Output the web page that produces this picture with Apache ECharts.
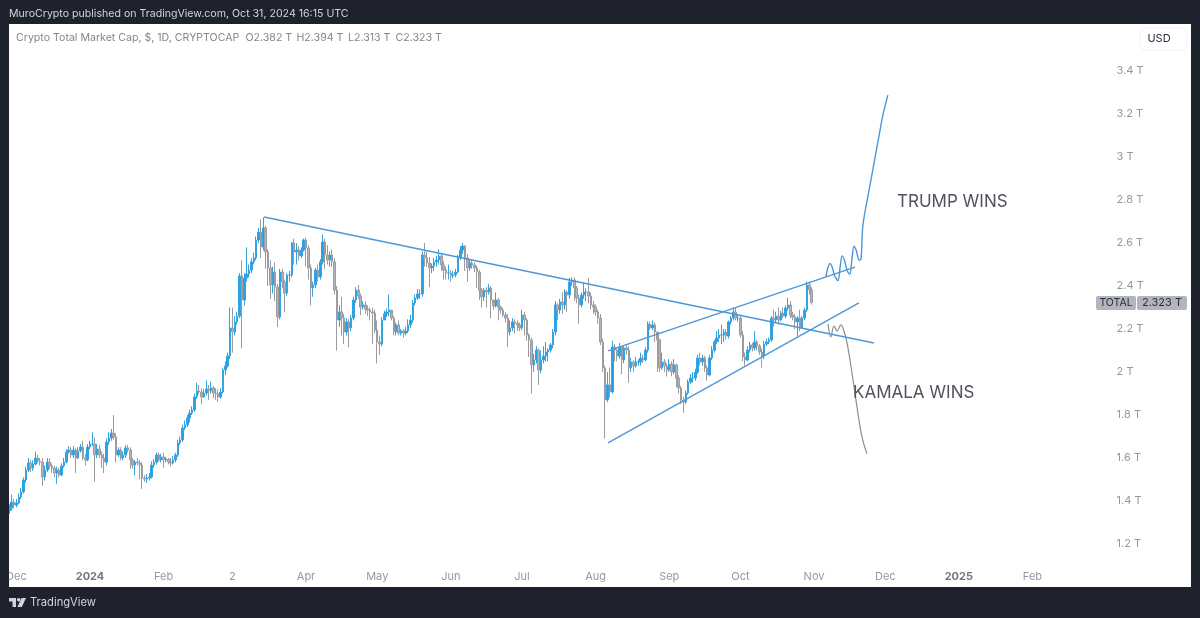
<!DOCTYPE html>
<html>
<head>
    <meta charset="utf-8">
    <title>Crypto Total Market Cap</title>
    <script src="https://cdn.jsdelivr.net/npm/echarts@6/dist/echarts.min.js"></script>
    <style>
        html, body { margin: 0; padding: 0; background: #fff; }
        #chart1 { width: 1200px; height: 618px; }
    </style>
</head>
<body>
<div id="chart1"></div>
<script type="text/javascript">
// daily candles 2023-11-28 .. 2024-10-31, in trillions
var opens = [
    1.355,1.368,1.395,1.381,1.391,1.419,1.442,1.498,1.544,1.577,
    1.553,1.572,1.600,1.586,1.581,1.512,1.544,1.581,1.563,1.553,
    1.530,1.544,1.521,1.563,1.581,1.628,1.637,1.614,1.637,1.600,
    1.633,1.651,1.600,1.591,1.651,1.665,1.665,1.614,1.642,1.614,
    1.600,1.581,1.674,1.693,1.716,1.698,1.614,1.637,1.600,1.614,
    1.647,1.637,1.591,1.567,1.581,1.577,1.567,1.507,1.502,1.507,
    1.512,1.567,1.581,1.614,1.591,1.605,1.591,1.595,1.581,1.577,
    1.591,1.614,1.670,1.684,1.740,1.754,1.786,1.809,1.823,1.884,
    1.912,1.907,1.884,1.902,1.921,1.912,1.926,1.902,1.898,1.884,
    1.907,2.009,2.028,2.074,2.205,2.186,2.233,2.260,2.447,2.335,
    2.437,2.456,2.474,2.512,2.530,2.614,2.651,2.581,2.670,2.558,
    2.484,2.405,2.465,2.395,2.256,2.465,2.419,2.367,2.451,2.451,
    2.600,2.558,2.567,2.540,2.567,2.614,2.577,2.484,2.391,2.405,
    2.474,2.442,2.512,2.605,2.544,2.521,2.544,2.512,2.381,2.242,
    2.279,2.251,2.186,2.233,2.205,2.251,2.335,2.381,2.353,2.302,
    2.312,2.293,2.288,2.279,2.274,2.195,2.140,2.130,2.242,2.270,
    2.279,2.288,2.251,2.186,2.219,2.181,2.191,2.181,2.191,2.219,
    2.242,2.321,2.344,2.363,2.363,2.544,2.530,2.507,2.484,2.493,
    2.512,2.521,2.540,2.498,2.474,2.460,2.460,2.447,2.451,2.465,
    2.530,2.567,2.586,2.530,2.484,2.507,2.498,2.484,2.465,2.381,
    2.349,2.381,2.372,2.391,2.335,2.307,2.335,2.302,2.288,2.265,
    2.251,2.186,2.205,2.233,2.228,2.219,2.205,2.265,2.242,2.172,
    2.149,2.033,2.056,2.102,2.009,2.056,2.074,2.093,2.102,2.126,
    2.186,2.312,2.288,2.326,2.312,2.372,2.358,2.419,2.428,2.391,
    2.344,2.312,2.358,2.372,2.372,2.353,2.312,2.302,2.279,2.251,
    2.140,2.019,1.870,1.940,1.907,2.116,2.102,2.074,2.116,2.056,
    2.112,2.102,2.019,2.047,2.028,2.047,2.047,2.065,2.056,2.102,
    2.223,2.205,2.219,2.186,2.149,2.019,2.047,2.028,2.009,2.037,
    2.000,2.033,1.972,1.926,1.870,1.860,1.902,1.953,1.972,1.972,
    2.000,2.065,2.047,2.065,2.019,1.986,2.065,2.102,2.140,2.158,
    2.172,2.172,2.186,2.167,2.233,2.251,2.279,2.251,2.251,2.172,
    2.070,2.056,2.102,2.126,2.112,2.140,2.121,2.093,2.074,2.130,
    2.140,2.149,2.251,2.242,2.260,2.242,2.274,2.260,2.298,2.312,
    2.265,2.256,2.233,2.251,2.205,2.251,2.288,2.405,2.382
];
var closes = [
    1.368,1.395,1.381,1.391,1.419,1.442,1.498,1.544,1.577,1.553,
    1.572,1.600,1.586,1.581,1.512,1.544,1.581,1.563,1.553,1.530,
    1.544,1.521,1.563,1.581,1.628,1.637,1.614,1.637,1.600,1.633,
    1.651,1.600,1.591,1.651,1.665,1.665,1.614,1.642,1.614,1.600,
    1.581,1.674,1.693,1.716,1.698,1.614,1.637,1.600,1.614,1.647,
    1.637,1.591,1.567,1.581,1.577,1.567,1.507,1.502,1.507,1.512,
    1.567,1.581,1.614,1.591,1.605,1.591,1.595,1.581,1.577,1.591,
    1.614,1.670,1.684,1.740,1.754,1.786,1.809,1.823,1.884,1.912,
    1.907,1.884,1.902,1.921,1.912,1.926,1.902,1.898,1.884,1.907,
    2.009,2.028,2.074,2.205,2.186,2.233,2.260,2.447,2.335,2.437,
    2.456,2.474,2.512,2.530,2.614,2.651,2.581,2.670,2.558,2.484,
    2.405,2.465,2.395,2.256,2.465,2.419,2.367,2.451,2.451,2.600,
    2.558,2.567,2.540,2.567,2.614,2.577,2.484,2.391,2.405,2.474,
    2.442,2.512,2.605,2.544,2.521,2.544,2.512,2.381,2.242,2.279,
    2.251,2.186,2.233,2.205,2.251,2.335,2.381,2.353,2.302,2.312,
    2.293,2.288,2.279,2.274,2.195,2.140,2.130,2.242,2.270,2.279,
    2.288,2.251,2.186,2.219,2.181,2.191,2.181,2.191,2.219,2.242,
    2.321,2.344,2.363,2.363,2.544,2.530,2.507,2.484,2.493,2.512,
    2.521,2.540,2.498,2.474,2.460,2.460,2.447,2.451,2.465,2.530,
    2.567,2.586,2.530,2.484,2.507,2.498,2.484,2.465,2.381,2.349,
    2.381,2.372,2.391,2.335,2.307,2.335,2.302,2.288,2.265,2.251,
    2.186,2.205,2.233,2.228,2.219,2.205,2.265,2.242,2.172,2.149,
    2.033,2.056,2.102,2.009,2.056,2.074,2.093,2.102,2.126,2.186,
    2.312,2.288,2.326,2.312,2.372,2.358,2.419,2.428,2.391,2.344,
    2.312,2.358,2.372,2.372,2.353,2.312,2.302,2.279,2.251,2.140,
    2.019,1.870,1.940,1.907,2.116,2.102,2.074,2.116,2.056,2.112,
    2.102,2.019,2.047,2.028,2.047,2.047,2.065,2.056,2.102,2.223,
    2.205,2.219,2.186,2.149,2.019,2.047,2.028,2.009,2.037,2.000,
    2.033,1.972,1.926,1.870,1.860,1.902,1.953,1.972,1.972,2.000,
    2.065,2.047,2.065,2.019,1.986,2.065,2.102,2.140,2.158,2.172,
    2.172,2.186,2.167,2.233,2.251,2.279,2.251,2.251,2.172,2.070,
    2.056,2.102,2.126,2.112,2.140,2.121,2.093,2.074,2.130,2.140,
    2.149,2.251,2.242,2.260,2.242,2.274,2.260,2.298,2.312,2.265,
    2.256,2.233,2.251,2.205,2.251,2.288,2.405,2.382,2.323
];
var lows = [
    1.34,1.355,1.365,1.37,1.385,1.41,1.435,1.485,1.535,1.535,
    1.54,1.565,1.575,1.565,1.47,1.495,1.535,1.55,1.53,1.51,
    1.48,1.51,1.515,1.555,1.575,1.62,1.60,1.60,1.53,1.595,
    1.625,1.59,1.565,1.585,1.64,1.655,1.49,1.60,1.60,1.555,
    1.53,1.565,1.66,1.68,1.685,1.58,1.605,1.59,1.59,1.60,
    1.625,1.55,1.55,1.52,1.565,1.50,1.456,1.49,1.485,1.495,
    1.505,1.555,1.57,1.58,1.58,1.555,1.58,1.57,1.56,1.57,
    1.58,1.605,1.66,1.675,1.73,1.745,1.765,1.80,1.815,1.875,
    1.895,1.85,1.88,1.89,1.87,1.90,1.88,1.87,1.86,1.875,
    1.90,1.985,2.02,2.06,2.09,2.17,2.22,2.25,2.11,2.31,
    2.42,2.44,2.46,2.50,2.52,2.60,2.53,2.565,2.48,2.40,
    2.34,2.365,2.33,2.21,2.245,2.39,2.28,2.355,2.42,2.44,
    2.50,2.50,2.52,2.53,2.56,2.49,2.43,2.31,2.35,2.39,
    2.42,2.43,2.50,2.48,2.50,2.49,2.49,2.36,2.10,2.21,
    2.17,2.13,2.17,2.115,2.19,2.24,2.32,2.34,2.265,2.29,
    2.27,2.26,2.24,2.13,2.18,2.04,2.08,2.12,2.25,2.255,
    2.26,2.24,2.17,2.17,2.17,2.17,2.16,2.17,2.18,2.205,
    2.23,2.31,2.335,2.34,2.35,2.49,2.49,2.395,2.46,2.47,
    2.49,2.50,2.47,2.43,2.43,2.43,2.42,2.435,2.44,2.46,
    2.52,2.55,2.47,2.42,2.47,2.48,2.465,2.39,2.335,2.30,
    2.33,2.30,2.36,2.25,2.29,2.30,2.24,2.27,2.255,2.23,
    2.116,2.17,2.19,2.18,2.19,2.19,2.195,2.17,2.145,2.07,
    1.90,2.0,2.04,1.94,1.995,2.04,2.05,2.05,2.09,2.11,
    2.17,2.24,2.27,2.27,2.29,2.28,2.34,2.40,2.33,2.32,
    2.225,2.30,2.34,2.33,2.32,2.29,2.27,2.26,2.225,2.125,
    2.00,1.69,1.86,1.88,1.90,2.05,2.05,2.06,1.99,2.04,
    2.08,1.95,2.00,2.00,2.02,2.03,2.03,2.04,2.05,2.09,
    2.195,2.195,2.14,2.00,2.0,2.01,2.0,1.98,2.0,1.98,
    1.99,1.93,1.90,1.85,1.81,1.85,1.895,1.945,1.95,1.96,
    1.99,2.03,2.03,2.0,1.96,1.98,2.055,2.09,2.13,2.14,
    2.13,2.14,2.15,2.155,2.22,2.24,2.24,2.235,2.16,2.05,
    2.03,2.05,2.09,2.095,2.10,2.10,2.08,2.02,2.06,2.12,
    2.13,2.14,2.21,2.23,2.22,2.235,2.25,2.25,2.285,2.25,
    2.24,2.20,2.167,2.19,2.20,2.24,2.28,2.36,2.313
];
var highs = [
    1.385,1.43,1.41,1.41,1.435,1.46,1.51,1.56,1.60,1.59,
    1.59,1.63,1.615,1.60,1.60,1.565,1.60,1.60,1.575,1.565,
    1.56,1.555,1.575,1.60,1.64,1.655,1.65,1.655,1.645,1.65,
    1.665,1.68,1.62,1.665,1.68,1.72,1.695,1.665,1.66,1.63,
    1.62,1.69,1.72,1.735,1.80,1.715,1.65,1.65,1.63,1.66,
    1.66,1.65,1.60,1.59,1.60,1.59,1.58,1.52,1.525,1.53,
    1.585,1.595,1.625,1.625,1.62,1.625,1.605,1.60,1.60,1.61,
    1.625,1.685,1.70,1.755,1.775,1.80,1.825,1.84,1.90,1.95,
    1.94,1.925,1.92,1.96,1.94,1.955,1.935,1.925,1.92,1.925,
    2.02,2.05,2.09,2.30,2.30,2.26,2.28,2.46,2.52,2.46,
    2.58,2.50,2.53,2.555,2.63,2.67,2.71,2.72,2.68,2.57,
    2.52,2.49,2.51,2.41,2.48,2.48,2.43,2.46,2.47,2.605,
    2.62,2.60,2.585,2.58,2.62,2.625,2.59,2.50,2.42,2.485,
    2.50,2.525,2.64,2.62,2.59,2.56,2.57,2.53,2.40,2.31,
    2.35,2.27,2.25,2.245,2.265,2.35,2.395,2.405,2.365,2.33,
    2.33,2.31,2.30,2.30,2.29,2.24,2.17,2.255,2.285,2.295,
    2.36,2.27,2.26,2.23,2.24,2.20,2.20,2.21,2.245,2.265,
    2.335,2.36,2.385,2.385,2.56,2.60,2.56,2.535,2.505,2.53,
    2.54,2.57,2.55,2.515,2.49,2.50,2.475,2.47,2.48,2.545,
    2.585,2.60,2.59,2.55,2.52,2.52,2.51,2.495,2.475,2.39,
    2.39,2.395,2.41,2.40,2.32,2.37,2.345,2.31,2.30,2.28,
    2.27,2.24,2.25,2.245,2.24,2.23,2.29,2.28,2.25,2.18,
    2.16,2.085,2.12,2.11,2.10,2.12,2.14,2.11,2.135,2.20,
    2.33,2.32,2.34,2.37,2.385,2.38,2.437,2.44,2.44,2.40,
    2.36,2.37,2.415,2.39,2.437,2.37,2.33,2.315,2.29,2.27,
    2.155,2.03,2.00,2.02,2.145,2.13,2.11,2.135,2.12,2.125,
    2.13,2.12,2.065,2.055,2.07,2.06,2.09,2.08,2.115,2.235,
    2.235,2.24,2.23,2.16,2.155,2.09,2.06,2.04,2.06,2.05,
    2.06,2.04,1.985,1.935,1.885,1.915,1.965,1.99,2.0,2.015,
    2.08,2.09,2.08,2.075,2.03,2.08,2.12,2.15,2.19,2.20,
    2.22,2.20,2.20,2.24,2.26,2.30,2.30,2.27,2.26,2.19,
    2.09,2.12,2.14,2.135,2.19,2.15,2.13,2.11,2.145,2.155,
    2.16,2.26,2.29,2.28,2.30,2.285,2.30,2.31,2.345,2.33,
    2.28,2.27,2.26,2.29,2.26,2.30,2.42,2.42,2.394
];

// drawings: [days since 2024-01-01, price]
var resistanceLine = [[73.3, 2.721], [330.2, 2.135]];
var wedgeTopLine = [[218.2, 2.098], [322.2, 2.488]];
var wedgeBottomLine = [[218.2, 1.670], [323.9, 2.321]];
var trumpPath = [[310.0, 2.442], [310.7, 2.480], [311.7, 2.505], [312.6, 2.490], [313.6, 2.450], [315.1, 2.425], [315.9, 2.480],
    [316.8, 2.540], [317.8, 2.520], [319.0, 2.470], [320.1, 2.455], [321.0, 2.530], [321.8, 2.585], [322.8, 2.565], [324.0, 2.520],
    [324.8, 2.526], [325.6, 2.684], [328.6, 2.870], [331.9, 3.070], [334.0, 3.195], [336.1, 3.288]];
var kamalaPath = [[310.9, 2.223], [312.1, 2.163], [313.4, 2.214], [314.7, 2.191], [316.3, 2.219], [317.6, 2.191],
    [318.9, 2.135], [321.0, 1.995], [323.1, 1.837], [325.2, 1.698], [327.3, 1.619]];

var priceTicks = [1.2, 1.4, 1.6, 1.8, 2, 2.2, 2.4, 2.6, 2.8, 3, 3.2, 3.4];
var timeTickDates = ['2023-12-01', '2024-01-01', '2024-02-01', '2024-03-01', '2024-04-01', '2024-05-01', '2024-06-01', '2024-07-01',
    '2024-08-01', '2024-09-01', '2024-10-01', '2024-11-01', '2024-12-01', '2025-01-01', '2025-02-01'];
var timeTickLabels = ['Dec', '2024', 'Feb', '2', 'Apr', 'May', 'Jun', 'Jul', 'Aug', 'Sep', 'Oct', 'Nov', 'Dec', '2025', 'Feb'];

// axis runs past the last candle, to late Feb 2025
var categories = [];
for (var i = 0; i < 456; i++) {
    categories.push(new Date(Date.UTC(2023, 10, 28 + i)).toISOString().slice(0, 10));
}

var candles = closes.map(function (c, i) {
    return [opens[i], c, lows[i], highs[i]];
});

var FRAME = '#1e222d';
var FONT = 'Inter, "Noto Sans", sans-serif';
var BLUE_LINE = '#4c97d8';

function frameRect(x, y, w, h) {
    return { type: 'rect', z: 100, shape: { x: x, y: y, width: w, height: h }, style: { fill: FRAME } };
}
function txt(x, y, text, size, color, align) {
    return {
        type: 'text', z: 110, x: x, y: y,
        style: { text: text, fontSize: size, fill: color, fontFamily: FONT, align: align || 'left', verticalAlign: 'middle' }
    };
}
function drawing(name, data, color, smooth, width) {
    return {
        name: name, type: 'line', xAxisIndex: 1, data: data, symbol: 'none', smooth: smooth,
        lineStyle: { color: color, width: width }, silent: true, z: 5
    };
}

var myChart1 = echarts.init(document.getElementById('chart1'));
myChart1.setOption({
    animation: false,
    backgroundColor: '#ffffff',
    grid: { left: 8.1, width: 1082.5, top: 28, bottom: 31 },
    xAxis: [{
        type: 'category',
        data: categories,
        axisLine: { show: false },
        axisTick: { show: false },
        splitLine: { show: false },
        axisLabel: {
            inside: true,
            margin: 5,
            interval: function (idx, value) { return timeTickDates.indexOf(value) >= 0; },
            formatter: function (value) {
                var label = timeTickLabels[timeTickDates.indexOf(value)];
                return label.length === 4 ? '{year|' + label + '}' : label;
            },
            color: '#9598a1',
            fontSize: 11,
            fontFamily: FONT,
            rich: { year: { fontWeight: 'bold', color: '#74777f', fontSize: 11, fontFamily: FONT } }
        }
    }, {
        type: 'value', show: false, min: -34.5, max: 421.5, splitLine: { show: false }
    }],
    yAxis: {
        type: 'value',
        position: 'right',
        min: 1,
        max: 3.6,
        interval: 0.2,
        axisLine: { show: false },
        axisTick: { show: false },
        splitLine: { show: false },
        axisLabel: {
            margin: 26,
            padding: [2, 0, 0, 0],
            color: '#9598a1',
            fontSize: 11,
            fontFamily: FONT,
            formatter: function (v) {
                var r = Math.round(v * 10) / 10;
                return priceTicks.indexOf(r) >= 0 ? r + ' T' : '';
            }
        }
    },
    series: [{
        name: 'TOTAL',
        type: 'candlestick',
        data: candles,
        barWidth: 2,
        itemStyle: {
            color: '#2aa0e4',
            color0: '#b3b5bb',
            borderColor: '#34a3e2',
            borderColor0: '#9a9ca2',
            borderWidth: 1
        }
    },
        drawing('resistance', resistanceLine, BLUE_LINE, false, 1.4),
        drawing('wedge top', wedgeTopLine, BLUE_LINE, false, 1.4),
        drawing('wedge bottom', wedgeBottomLine, BLUE_LINE, false, 1.4),
        drawing('trump', trumpPath, BLUE_LINE, 0.3, 1.4),
        drawing('kamala', kamalaPath, '#8d8d8f', 0.4, 1.2)
    ],
    graphic: {
        elements: [
            // dark frame around the white panel
            frameRect(0, 0, 1200, 24),
            frameRect(0, 587, 1200, 31),
            frameRect(0, 0, 9, 618),
            frameRect(1191, 0, 9, 618),

            txt(9, 14, 'MuroCrypto published on TradingView.com, Oct 31, 2024 16:15 UTC', 10.6, '#d1d4dc'),
            txt(16, 38, 'Crypto Total Market Cap, $, 1D, CRYPTOCAP', 10.6, '#83868f'),
            txt(245.5, 38, 'O2.382 T', 10.6, '#83868f'),
            txt(296.5, 38, 'H2.394 T', 10.6, '#83868f'),
            txt(348, 38, 'L2.313 T', 10.6, '#83868f'),
            txt(395.5, 38, 'C2.323 T', 10.6, '#83868f'),

            txt(897, 202, 'TRUMP WINS', 17, '#4f535d'),
            txt(853, 393, 'KAMALA WINS', 17, '#4f535d'),

            // currency button
            {
                type: 'rect', z: 105,
                shape: { x: 1140, y: 28, width: 47, height: 22, r: 5 },
                style: { fill: '#ffffff', stroke: '#f0f3fa', lineWidth: 1 }
            },
            txt(1159, 39, 'USD', 11, '#2a2e39', 'center'),

            // last price tag
            { type: 'rect', z: 105, shape: { x: 1096, y: 296, width: 40, height: 14, r: 2 }, style: { fill: '#b2b5be' } },
            { type: 'rect', z: 105, shape: { x: 1137, y: 296, width: 50, height: 14, r: 2 }, style: { fill: '#b2b5be' } },
            txt(1116, 303, 'TOTAL', 10.5, '#2a2e39', 'center'),
            txt(1162, 303, '2.323 T', 11, '#2a2e39', 'center'),

            // footer logo and name
            { type: 'rect', z: 110, shape: { x: 9, y: 598, width: 7, height: 3.5 }, style: { fill: '#d1d4dc' } },
            { type: 'rect', z: 110, shape: { x: 12.5, y: 598, width: 3.5, height: 9 }, style: { fill: '#d1d4dc' } },
            { type: 'circle', z: 110, shape: { cx: 18.7, cy: 599.8, r: 1.8 }, style: { fill: '#d1d4dc' } },
            { type: 'polygon', z: 110, shape: { points: [[21.5, 598], [26, 598], [21.8, 607], [17.4, 607]] }, style: { fill: '#d1d4dc' } },
            txt(30, 603, 'TradingView', 11.2, '#d1d4dc')
        ]
    }
});
</script>
</body>
</html>
